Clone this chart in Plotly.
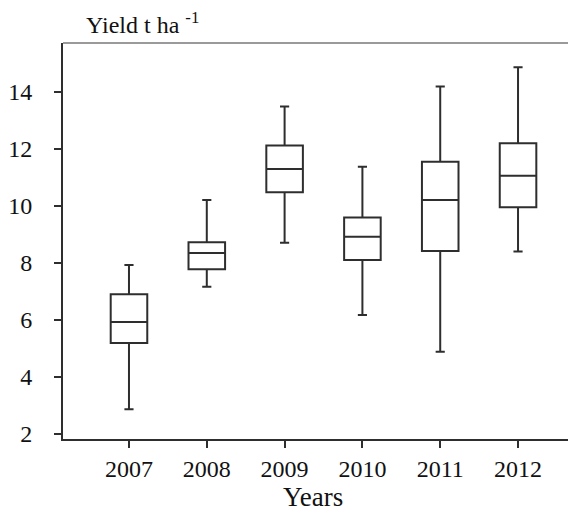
import plotly.graph_objects as go

years = ["2007", "2008", "2009", "2010", "2011", "2012"]
upper_whisker = [7.93, 10.21, 13.49, 11.38, 14.19, 14.87]
q3_values = [6.90, 8.73, 12.12, 9.60, 11.55, 12.20]
median_values = [5.93, 8.35, 11.30, 8.92, 10.21, 11.06]
q1_values = [5.19, 7.78, 10.48, 8.11, 8.42, 9.96]
lower_whisker = [2.87, 7.17, 8.71, 6.18, 4.89, 8.40]
y_ticks = [2, 4, 6, 8, 10, 12, 14]

serif = "Liberation Serif"
dark = "#2e2e2e"

fig = go.Figure()
fig.add_trace(go.Box(
    x=years,
    q1=q1_values,
    median=median_values,
    q3=q3_values,
    lowerfence=lower_whisker,
    upperfence=upper_whisker,
    width=0.47,
    whiskerwidth=0.25,
    fillcolor="white",
    line=dict(color=dark, width=2),
    boxpoints=False,
    showlegend=False,
    hoverinfo="skip",
))

# the page body adds an 8px offset, so the figure is 8px smaller than the window
fig.update_layout(
    width=568, height=507,
    margin=dict(l=55, r=0, t=35, b=76),
    paper_bgcolor="white",
    plot_bgcolor="white",
    font=dict(family=serif, size=24, color="#111111"),
    xaxis=dict(
        type="category",
        range=[-0.848, 5.745],
        automargin=False,
        showline=True, linecolor=dark, linewidth=2,
        ticks="outside", ticklen=7, tickwidth=1.5, tickcolor=dark,
        showgrid=False, zeroline=False,
        tickfont=dict(family=serif, size=24, color="#111111"),
    ),
    yaxis=dict(
        range=[1.825, 15.72],
        tickvals=y_ticks,
        automargin=False,
        showline=True, linecolor=dark, linewidth=2,
        ticks="outside", ticklen=7, tickwidth=1.5, tickcolor=dark,
        ticklabelstandoff=17,
        showgrid=False, zeroline=False,
        tickfont=dict(family=serif, size=24, color="#111111"),
    ),
    shapes=[dict(type="line", xref="paper", yref="paper", x0=0, x1=1, y0=1, y1=1,
                 line=dict(color="#9a9a9a", width=2))],
    annotations=[
        dict(
            text="Yield t ha <sup>-1</sup>",
            xref="paper", yref="paper", x=21/513, y=1.0, yshift=3,
            xanchor="left", yanchor="bottom", showarrow=False,
            font=dict(family=serif, size=24, color="#111111"),
        ),
        dict(
            text="Years",
            xref="paper", yref="paper", x=0.487, y=0, yshift=-58,
            xanchor="center", yanchor="middle", showarrow=False,
            font=dict(family=serif, size=27, color="#111111"),
        ),
    ],
)

fig.write_html("out.html")
